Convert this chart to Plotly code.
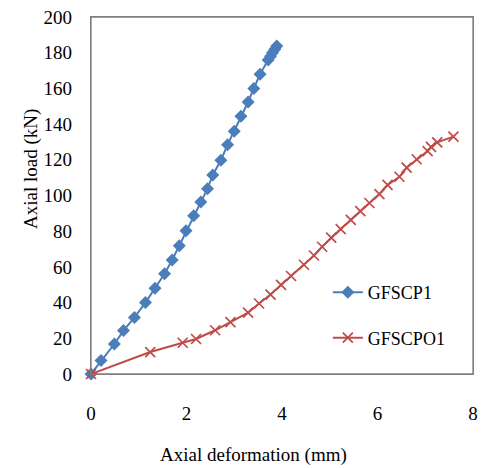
import plotly.graph_objects as go

# GFSCP1 data (axial deformation mm, axial load kN)
p1_def = [0, 0.21, 0.49, 0.68, 0.91, 1.14, 1.34, 1.54, 1.70, 1.85, 1.99, 2.15, 2.30, 2.44,
          2.55, 2.72, 2.86, 3.00, 3.14, 3.29, 3.41, 3.54, 3.71, 3.76, 3.80, 3.85, 3.89]
p1_load = [0, 7.5, 16.8, 24.3, 31.7, 40.0, 48.0, 56.2, 63.9, 71.9, 80.2, 88.7, 96.4, 103.8,
           111.5, 119.7, 128.5, 136.0, 144.4, 152.4, 160.0, 167.9, 175.9, 178.0, 180.0, 182.0, 183.7]

# GFSCPO1 data
po1_def = [0, 1.24, 1.92, 2.20, 2.60, 2.92, 3.29, 3.52, 3.76, 3.98, 4.19, 4.46, 4.67, 4.84,
           5.03, 5.23, 5.44, 5.64, 5.83, 6.04, 6.21, 6.46, 6.61, 6.82, 7.05, 7.12, 7.25, 7.59]
po1_load = [0, 12.3, 17.5, 19.6, 24.5, 29.1, 34.4, 39.5, 44.5, 49.9, 54.9, 61.2, 66.4, 71.3,
            76.4, 81.2, 86.3, 91.3, 95.8, 100.8, 105.9, 110.5, 115.6, 120.3, 124.9, 127.2, 129.8, 133.0]

x_ticks = [0, 2, 4, 6, 8]
y_ticks = [0, 20, 40, 60, 80, 100, 120, 140, 160, 180, 200]

BLUE = "#4A7EBB"
RED = "#BE4B48"
FONT = "Liberation Serif"
BORDER = "#7f7f7f"

fig = go.Figure()
fig.add_trace(go.Scatter(
    x=p1_def, y=p1_load, mode="lines+markers", name="GFSCP1",
    line=dict(color=BLUE, width=2),
    marker=dict(symbol="diamond", size=10, color=BLUE),
    cliponaxis=False, legendgroup="a"))
fig.add_trace(go.Scatter(
    x=po1_def, y=po1_load, mode="lines+markers", name="GFSCPO1",
    line=dict(color=RED, width=2),
    marker=dict(symbol="x-thin", size=10, color=RED, line=dict(color=RED, width=1.7)),
    cliponaxis=False, legendgroup="b"))

fig.update_layout(
    width=481, height=468,
    margin=dict(l=91, r=8, t=17, b=94, autoexpand=False),
    paper_bgcolor="white", plot_bgcolor="white",
    font=dict(family=FONT, size=18, color="black"),
    showlegend=True,
    legend=dict(x=0.62, y=0.28, xanchor="left", yanchor="top",
                bgcolor="rgba(0,0,0,0)", tracegroupgap=19,
                font=dict(family=FONT, size=18, color="black")),
    xaxis=dict(range=[0, 8], tickvals=x_ticks, ticktext=[str(v) for v in x_ticks],
               showgrid=False, zeroline=False, showline=True, linecolor=BORDER,
               linewidth=1.3, mirror=True, ticks="", ticklabelstandoff=22,
               ticklabeloverflow="allow", automargin=False,
               tickfont=dict(family=FONT, size=19, color="black")),
    yaxis=dict(range=[0, 200], tickvals=y_ticks, ticktext=[str(v) for v in y_ticks],
               showgrid=False, zeroline=False, showline=True, linecolor=BORDER,
               linewidth=1.3, mirror=True, ticks="", ticklabelstandoff=14,
               ticklabeloverflow="allow", automargin=False,
               tickfont=dict(family=FONT, size=19, color="black")),
    shapes=[dict(type="rect", xref="paper", yref="paper", x0=0, y0=0, x1=1, y1=1,
                 line=dict(color=BORDER, width=1.3), fillcolor="rgba(0,0,0,0)",
                 layer="below")],
    annotations=[
        dict(text="Axial deformation (mm)", xref="paper", yref="paper",
             x=(253 - 91) / 382, y=-(455 - 374) / 357, xanchor="center", yanchor="middle",
             showarrow=False, font=dict(family=FONT, size=19, color="black")),
        dict(text="Axial load (kN)", xref="paper", yref="paper",
             x=-(91 - 31) / 382, y=(374 - 169) / 357, xanchor="center", yanchor="middle",
             textangle=-90, showarrow=False, font=dict(family=FONT, size=19, color="black")),
    ],
)

fig.write_html("out.html", config={"displayModeBar": False},
               post_script="document.body.style.margin='0';document.body.style.overflow='hidden';")
